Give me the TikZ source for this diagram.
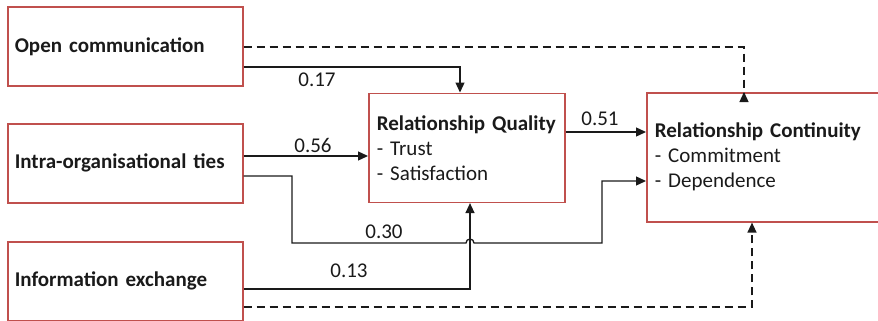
\documentclass[tikz,border=0pt]{standalone}
\usepackage{fontspec}
\setmainfont{Carlito}
\usetikzlibrary{arrows.meta}
\definecolor{boxred}{RGB}{192,80,77}
\definecolor{ink}{RGB}{26,26,26}
\tikzset{
  box/.style={draw=boxred, line width=1.6pt, rectangle, inner xsep=7pt, inner ysep=0pt, align=left, anchor=north west, font=\fontsize{21}{25}\selectfont, text=ink},
  conn/.style={draw=ink, line width=1.3pt, -{Triangle[length=10pt,width=9pt]}},
  dconn/.style={conn, dash pattern=on 8pt off 5pt},
  lbl/.style={font=\fontsize{21}{25}\selectfont, text=ink, inner sep=0pt}
}
\begin{document}
\begin{tikzpicture}[x=1pt,y=-1pt]
\useasboundingbox (0,0) rectangle (878,321);
\clip (0,0) rectangle (878,321);
% boxes
\node[box, minimum width=235pt, minimum height=79pt, text width=221pt] (oc) at (7,6) {\textbf{Open communication}};
\node[box, minimum width=235pt, minimum height=79pt, text width=221pt] (it) at (7,123) {\textbf{Intra-organisational ties}};
\node[box, minimum width=235pt, minimum height=79pt, text width=221pt] (ie) at (7,241) {\textbf{Information exchange}};
\node[box, minimum width=195pt, minimum height=109pt, text width=180pt, inner xsep=8pt] (rq) at (368,92.5) {\textbf{Relationship Quality}\\- Trust\\- Satisfaction};
\node[box, minimum width=236pt, minimum height=129pt, text width=220pt, inner xsep=8pt] (rc) at (646,92) {\textbf{Relationship Continuity}\\- Commitment\\- Dependence};
% coordinates
\coordinate (y47) at (0,47);
\coordinate (y67) at (0,67);
\coordinate (y132) at (0,132);
\coordinate (y156) at (0,156);
\coordinate (y176) at (0,176);
\coordinate (y181) at (0,181);
\coordinate (y289) at (0,289);
\coordinate (y307) at (0,307);
\coordinate (xa) at (460,0);
\coordinate (xb) at (744,0);
\coordinate (xc) at (470,0);
\coordinate (xd) at (752,0);
\coordinate (j1) at (292,176);
\coordinate (j2) at (292,243);
\coordinate (j3) at (466,243);
\coordinate (j4) at (602,243);
\coordinate (j5) at (602,181);
% connectors
\draw[dconn] (oc.east |- y47) -| (rq.north -| xb) -- (rc.north -| xb);
\draw[conn] (oc.east |- y67) -| (rq.north -| xa);
\draw[conn] (it.east |- y156) -- (rq.west |- y156);
\draw[conn] (rq.east |- y132) -- (rc.west |- y132);
\draw[conn] (ie.east |- y289) -| (rq.south -| xc);
\draw[conn] (it.east |- y176) -- (j1) -- (j2) -- (j3) arc[start angle=180, end angle=0, radius=4pt] -- (j4) -- (j5) -- (rc.west |- y181);
\draw[dconn] (ie.east |- y307) -| (rc.south -| xd);
% labels
\node[lbl] (l17) at (317,80) {0.17};
\node[lbl] (l56) at (313,145) {0.56};
\node[lbl] (l51) at (600,119) {0.51};
\node[lbl] (l30) at (384,232) {0.30};
\node[lbl] (l13) at (349,271) {0.13};
\end{tikzpicture}
\end{document}
